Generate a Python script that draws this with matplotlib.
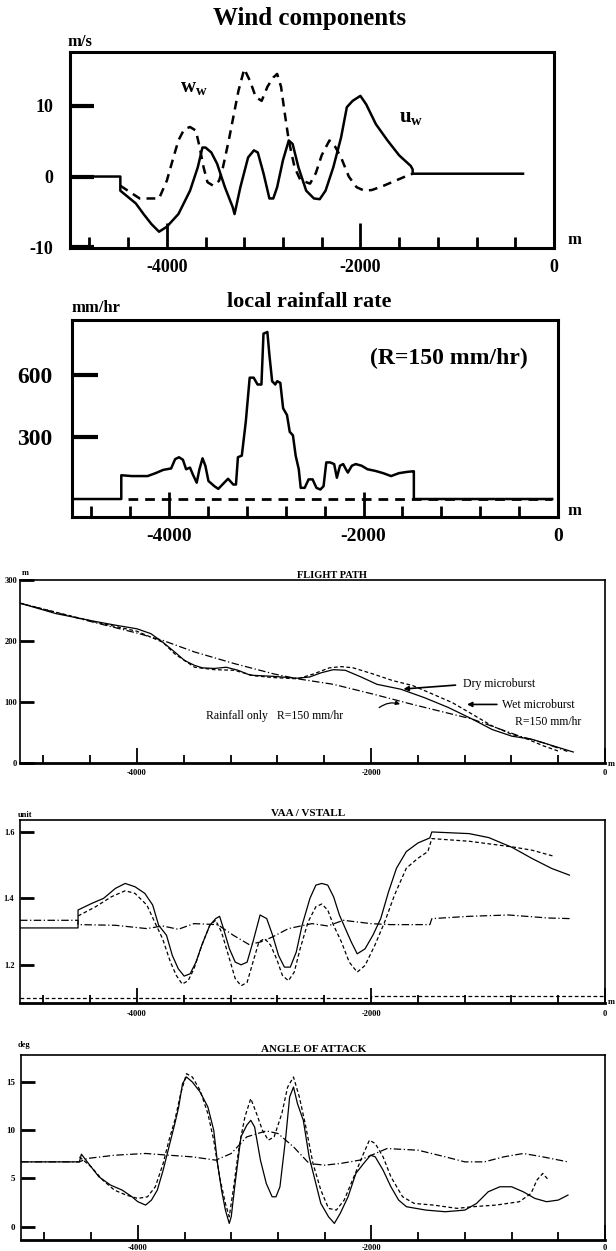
import matplotlib
matplotlib.use('Agg')
import matplotlib.pyplot as plt

plt.rcParams['font.family'] = ['Liberation Serif', 'DejaVu Serif']
plt.rcParams['mathtext.fontset'] = 'custom'
plt.rcParams['mathtext.rm'] = 'Liberation Serif'
plt.rcParams['mathtext.bf'] = 'Liberation Serif:bold'

W, H = 616, 1251

# ---- wind components ----
ux = [-5000, -4480, -4480, -4400, -4320, -4240, -4160, -4080, -4000, -3880, -3760, -3680, -3632, -3600,
      -3540, -3480, -3400, -3320, -3300, -3240, -3160, -3100, -3060, -3000, -2940, -2900, -2860, -2800,
      -2740, -2700, -2640, -2560, -2480, -2420, -2360, -2280, -2200, -2140, -2080, -2000, -1940, -1840,
      -1720, -1600, -1480, -1460, -1460, -320]
uy = [0, 0, -2.0, -2.9, -3.8, -5.3, -6.7, -7.8, -7.1, -5.3, -2.0, 1.3, 4.1, 4.1,
      3.4, 1.8, -1.5, -4.3, -5.3, -1.5, 2.7, 3.7, 3.4, 0.4, -3.1, -3.1, -1.5, 2.3,
      5.1, 4.6, 1.3, -2.0, -3.1, -3.2, -2.0, 1.3, 5.5, 9.8, 10.7, 11.4, 10.2, 7.4,
      5.1, 3.0, 1.5, 1.0, 0.4, 0.4]
wx = [-4480, -4280, -4080, -4000, -3940, -3880, -3820, -3760, -3700, -3660, -3620, -3580, -3520, -3460,
      -3420, -3360, -3300, -3260, -3200, -3140, -3080, -3020, -2960, -2900, -2860, -2820, -2780, -2740,
      -2680, -2620, -2520, -2460, -2400, -2320, -2260, -2200, -2120, -2040, -1960, -1880, -1760, -1640,
      -1520, -1460]
wy = [-1.3, -3.1, -3.1, -0.6, 2.3, 5.1, 6.7, 7.0, 6.5, 4.1, 1.3, -0.8, -1.3, -0.6,
      1.3, 5.1, 9.3, 12.1, 15.2, 13.5, 11.2, 10.7, 12.7, 14.0, 14.5, 12.7, 8.8, 5.1,
      1.3, -0.5, -1.0, 0.5, 3.0, 5.1, 4.2, 2.7, 0.0, -1.5, -2.0, -1.9, -1.3, -0.6,
      0.1, 0.4]

# ---- local rainfall rate ----
rx = [-5000, -4493, -4493, -4384, -4222, -4141, -4061, -3980, -3939, -3899, -3859, -3826, -3786, -3758,
      -3717, -3689, -3657, -3628, -3596, -3535, -3495, -3434, -3394, -3341, -3313, -3293, -3253, -3212,
      -3172, -3131, -3091, -3051, -3030, -2990, -2970, -2941, -2909, -2889, -2857, -2828, -2788, -2760,
      -2727, -2699, -2667, -2647, -2606, -2566, -2525, -2485, -2445, -2412, -2384, -2344, -2303, -2275,
      -2243, -2210, -2182, -2162, -2121, -2081, -2020, -1960, -1879, -1798, -1717, -1637, -1556, -1495,
      -1483, -1483, -60]
ry = [0, 0, 115, 111, 111, 125, 141, 148, 193, 202, 190, 144, 152, 120,
      79, 144, 197, 161, 87, 62, 49, 79, 98, 70, 70, 202, 210, 374,
      587, 587, 554, 554, 800, 808, 701, 570, 554, 570, 562, 439, 406, 325,
      308, 210, 144, 54, 54, 95, 95, 54, 46, 62, 177, 177, 169, 103,
      161, 169, 144, 128, 161, 169, 161, 144, 136, 125, 111, 125, 131, 134,
      134, 0, 0]
r_dry_x = [-4420, -60]
r_dry_y = [0, 0]

# ---- flight path ----
fp_dry_x = [-5000, -4695, -4356, -4186, -4000, -3881, -3780, -3678, -3593, -3508, -3441, -3339, -3237,
            -3136, -3034, -2830, -2627, -2525, -2424, -2322, -2220, -2085, -1949, -1746, -1542, -1339,
            -1135, -966, -797, -627, -458, -271]
fp_dry_y = [262, 245, 232, 226, 220, 212, 198, 182, 168, 160, 156, 155, 157,
            152, 144, 142, 139, 141, 148, 153, 152, 141, 129, 121, 107, 91,
            72, 55, 44, 39, 29, 18]
fp_wet_x = [-5000, -4356, -4000, -3780, -3678, -3508, -3339, -3169, -3000, -2830, -2627, -2491, -2356,
            -2254, -2152, -1983, -1813, -1644, -1474, -1305, -1135, -966, -797, -661, -525, -390]
fp_wet_y = [262, 231, 216, 198, 179, 157, 153, 152, 143, 140, 138, 146, 156,
            158, 156, 146, 135, 127, 113, 99, 80, 61, 47, 39, 28, 19]
fp_rain_x = [-5000, -4356, -4000, -3780, -3508, -3169, -2830, -2627, -2322, -1983, -1644, -1305, -1135,
             -932, -729, -525, -322]
fp_rain_y = [262, 230, 213, 201, 182, 163, 146, 138, 129, 113, 96, 80, 72,
             58, 44, 33, 19]

# ---- VAA / VSTALL ----
v_dry_x = [-5000, -4504, -4504, -4386, -4286, -4185, -4101, -4017, -3933, -3866, -3815, -3748, -3698,
           -3647, -3597, -3546, -3496, -3446, -3378, -3328, -3294, -3261, -3210, -3160, -3110, -3059,
           -3009, -2948, -2891, -2841, -2790, -2740, -2690, -2639, -2589, -2522, -2471, -2421, -2370,
           -2320, -2270, -2219, -2169, -2118, -2051, -1984, -1917, -1850, -1782, -1698, -1598, -1497,
           -1480, -1161, -993, -791, -623, -455, -304]
v_dry_y = [1.311, 1.311, 1.365, 1.385, 1.400, 1.430, 1.445, 1.435, 1.415, 1.380, 1.319, 1.289, 1.228,
           1.188, 1.166, 1.173, 1.208, 1.259, 1.319, 1.339, 1.346, 1.309, 1.248, 1.208, 1.200, 1.208,
           1.269, 1.350, 1.339, 1.289, 1.228, 1.193, 1.193, 1.238, 1.319, 1.400, 1.440, 1.445, 1.440,
           1.405, 1.350, 1.309, 1.269, 1.233, 1.248, 1.289, 1.339, 1.420, 1.491, 1.541, 1.567, 1.582,
           1.600, 1.595, 1.583, 1.553, 1.520, 1.490, 1.470]
v_wet_x = [-4504, -4353, -4218, -4101, -4017, -3916, -3849, -3782, -3714, -3664, -3614, -3563, -3513,
           -3446, -3378, -3328, -3278, -3210, -3160, -3110, -3059, -3009, -2958, -2908, -2858, -2807,
           -2757, -2706, -2656, -2606, -2538, -2471, -2421, -2370, -2320, -2253, -2186, -2118, -2051,
           -1967, -1883, -1799, -1698, -1598, -1514, -1480, -1161, -791, -623, -438]
v_wet_y = [1.347, 1.375, 1.405, 1.423, 1.415, 1.380, 1.329, 1.279, 1.208, 1.168, 1.142, 1.152, 1.188,
           1.259, 1.319, 1.334, 1.299, 1.218, 1.158, 1.137, 1.147, 1.208, 1.269, 1.279, 1.259, 1.218,
           1.168, 1.152, 1.178, 1.248, 1.329, 1.375, 1.383, 1.365, 1.319, 1.269, 1.208, 1.178, 1.198,
           1.259, 1.329, 1.410, 1.491, 1.521, 1.541, 1.580, 1.572, 1.555, 1.545, 1.527]
v_rain_x = [-5000, -4504, -4504, -4185, -3916, -3782, -3647, -3513, -3311, -3177, -3042, -2942, -2841,
            -2706, -2505, -2370, -2236, -2001, -1833, -1497, -1480, -1161, -825, -489, -287]
v_rain_y = [1.334, 1.334, 1.321, 1.319, 1.309, 1.317, 1.307, 1.324, 1.321, 1.289, 1.261, 1.269, 1.284,
            1.309, 1.324, 1.317, 1.334, 1.324, 1.321, 1.321, 1.339, 1.346, 1.350, 1.341, 1.339]
v_ref_x = [-5000, -2000, -2000, 0]
v_ref_y = [1.100, 1.100, 1.107, 1.107]

# ---- angle of attack ----
a_dry_x = [-5000, -4500, -4483, -4433, -4333, -4233, -4133, -4050, -4000, -3933, -3883, -3833, -3783,
           -3733, -3683, -3650, -3617, -3583, -3533, -3467, -3400, -3350, -3317, -3283, -3250, -3217,
           -3200, -3167, -3117, -3067, -3033, -3000, -2950, -2900, -2850, -2817, -2783, -2733, -2700,
           -2667, -2633, -2583, -2533, -2483, -2433, -2367, -2317, -2267, -2200, -2133, -2067, -2007,
           -1967, -1900, -1833, -1767, -1700, -1533, -1367, -1200, -1100, -1000, -900, -800, -700,
           -600, -500, -400, -317]
a_dry_y = [6.72, 6.72, 7.52, 6.72, 5.17, 4.31, 3.79, 3.10, 2.59, 2.24, 2.76, 3.79, 5.86,
           8.28, 10.69, 12.41, 14.83, 15.52, 15.00, 13.97, 12.41, 10.00, 6.55, 3.79, 1.72, 0.34,
           1.03, 4.48, 9.31, 10.52, 11.03, 10.34, 6.90, 4.48, 3.10, 3.10, 4.14, 9.31, 13.45,
           14.48, 12.76, 11.03, 7.24, 4.83, 2.41, 1.03, 0.34, 1.38, 3.10, 5.52, 6.55, 7.41,
           7.24, 5.86, 4.14, 2.76, 2.07, 1.72, 1.55, 1.72, 2.41, 3.62, 4.14, 4.14, 3.62,
           2.93, 2.59, 2.76, 3.28]
a_wet_x = [-4500, -4400, -4300, -4200, -4100, -4000, -3917, -3850, -3783, -3733, -3683, -3633, -3583,
           -3533, -3467, -3400, -3350, -3300, -3250, -3217, -3183, -3133, -3083, -3033, -2983, -2933,
           -2883, -2833, -2767, -2717, -2667, -2617, -2567, -2500, -2433, -2367, -2300, -2233, -2150,
           -2067, -2017, -1967, -1900, -1833, -1733, -1633, -1467, -1267, -1133, -933, -733, -633,
           -583, -533, -483]
a_wet_y = [7.24, 6.21, 4.83, 3.79, 3.28, 2.93, 3.10, 4.14, 6.55, 8.97, 11.03, 13.79, 15.86,
           15.52, 14.14, 11.72, 8.97, 5.17, 2.41, 1.03, 3.79, 8.28, 11.38, 13.28, 11.72, 10.00,
           8.97, 9.31, 11.72, 14.48, 15.52, 13.45, 10.69, 6.55, 3.79, 1.90, 1.72, 2.76, 5.17,
           7.59, 8.97, 8.62, 7.24, 5.17, 3.10, 2.41, 2.24, 1.90, 2.07, 2.24, 2.59, 3.45,
           4.83, 5.52, 4.83]
a_rain_x = [-5000, -4500, -4433, -4200, -3933, -3733, -3533, -3333, -3200, -3067, -2900, -2800, -2667,
            -2533, -2400, -2267, -2100, -2000, -1867, -1600, -1367, -1200, -1033, -867, -700, -533, -317]
a_rain_y = [6.72, 6.72, 7.07, 7.41, 7.59, 7.41, 7.24, 6.90, 7.59, 9.31, 9.93, 9.66, 8.28,
            6.55, 6.38, 6.55, 6.90, 7.41, 8.10, 7.93, 7.24, 6.72, 6.72, 7.24, 7.59, 7.24, 6.72]

x_major = [-4000, -2000, 0]
x_major_labels = ['-4000', '-2000', '0']
x_minor = list(range(-4800, 0, 400))

fig = plt.figure(figsize=(W / 100, H / 100), dpi=100)


def box(l, t, r, b):
    return fig.add_axes([l / W, 1 - b / H, (r - l) / W, (b - t) / H])


def ftext(x, y, s, **kw):
    fig.text(x / W, 1 - y / H, s, **kw)


def style_x(ax, lab_size, pad, major_len, minor_len, width, bold=True):
    ax.set_xlim(-5000, 0)
    ax.set_xticks(x_major)
    ax.set_xticklabels(x_major_labels, fontsize=lab_size, fontweight='bold' if bold else 'normal')
    ax.set_xticks(x_minor, minor=True)
    ax.tick_params(axis='x', which='major', direction='in', length=major_len, width=width, pad=pad)
    ax.tick_params(axis='x', which='minor', direction='in', length=minor_len, width=width)


# panel 1
ax1 = box(70, 52, 554, 248)
ax1.plot(ux, uy, color='k', lw=1.8)
ax1.plot(wx, wy, color='k', lw=1.8, dashes=(3.5, 2.5))
ax1.set_ylim(-10.1, 17.6)
style_x(ax1, 13, 8, 18, 8, 2)
ax1.set_yticks([-10, 0, 10])
ax1.set_yticklabels(['-10', '0', '10'], fontsize=13, fontweight='bold')
ax1.tick_params(axis='y', direction='in', length=17, width=3, pad=12)
for s in ax1.spines.values():
    s.set_linewidth(2.2)
ax1.text(-3720, 12.6, r'$\mathbf{w_w}$', fontsize=15, ha='center', va='center')
ax1.text(-1480, 8.4, r'$\mathbf{u_w}$', fontsize=15, ha='center', va='center')
ftext(310, 18, 'Wind components', fontsize=18, fontweight='bold', ha='center', va='center')
ftext(67, 42, 'm/s', fontsize=12, fontweight='bold', ha='left', va='center')
ftext(574, 240, 'm', fontsize=12, fontweight='bold', ha='center', va='center')

# panel 2
ax2 = box(72, 320, 558, 517)
ax2.plot(rx, ry, color='k', lw=1.8)
ax2.plot(r_dry_x, r_dry_y, color='k', lw=2, dashes=(3.5, 2.5))
ax2.set_ylim(-87, 866)
style_x(ax2, 14, 8, 18, 8, 2)
ax2.set_yticks([300, 600])
ax2.set_yticklabels(['300', '600'], fontsize=17, fontweight='bold')
ax2.tick_params(axis='y', direction='in', length=19, width=3, pad=14)
for s in ax2.spines.values():
    s.set_linewidth(2.2)
ax2.text(-1120, 680, '(R=150 mm/hr)', fontsize=17, fontweight='bold', ha='center', va='center')
ftext(309, 302, 'local rainfall rate', fontsize=16, fontweight='bold', ha='center', va='center')
ftext(71, 308, 'mm/hr', fontsize=12, fontweight='bold', ha='left', va='center')
ftext(574, 511, 'm', fontsize=12, fontweight='bold', ha='center', va='center')

# panel 3
ax3 = box(20, 580, 605, 763)
ax3.plot(fp_dry_x, fp_dry_y, color='k', lw=0.9)
ax3.plot(fp_wet_x, fp_wet_y, color='k', lw=0.9, dashes=(3, 2))
ax3.plot(fp_rain_x, fp_rain_y, color='k', lw=0.9, dashes=(6, 2, 1, 2))
ax3.set_ylim(0, 300)
style_x(ax3, 6, 4, 11, 6, 1.3)
ax3.set_yticks([0, 100, 200, 300])
ax3.set_yticklabels(['0', '100', '200', '300'], fontsize=6, fontweight='bold')
ax3.tick_params(axis='y', direction='in', length=10, width=2, pad=2)
for s in ax3.spines.values():
    s.set_linewidth(1.2)
ax3.spines['bottom'].set_linewidth(2)
ax3.annotate('', xy=(-1746, 121), xytext=(-1254, 128),
             arrowprops=dict(arrowstyle='-|>', lw=1.2, color='k', mutation_scale=7))
ax3.text(-1215, 129, 'Dry microburst', fontsize=8.5, ha='left', va='center')
ax3.annotate('', xy=(-1203, 96), xytext=(-900, 96),
             arrowprops=dict(arrowstyle='-|>', lw=1.2, color='k', mutation_scale=7))
ax3.text(-880, 95, 'Wet microburst', fontsize=8.5, ha='left', va='center')
ax3.text(-770, 68, 'R=150 mm/hr', fontsize=8.5, ha='left', va='center')
ax3.text(-3407, 77, 'Rainfall only   R=150 mm/hr', fontsize=8.5, ha='left', va='center')
ax3.annotate('', xy=(-1729, 95), xytext=(-1949, 88),
             arrowprops=dict(arrowstyle='-|>', lw=0.9, color='k', mutation_scale=6,
                             connectionstyle='arc3,rad=-0.3'))
ftext(332, 575, 'FLIGHT PATH', fontsize=7.5, fontweight='bold', ha='center', va='center')
ftext(22, 573, 'm', fontsize=6, fontweight='bold', ha='left', va='center')
ftext(608, 764, 'm', fontsize=6, fontweight='bold', ha='left', va='center')

# panel 4
ax4 = box(20, 820, 605, 1003)
ax4.plot(v_dry_x, v_dry_y, color='k', lw=0.9)
ax4.plot(v_wet_x, v_wet_y, color='k', lw=0.9, dashes=(3, 2))
ax4.plot(v_rain_x, v_rain_y, color='k', lw=0.9, dashes=(6, 2, 1, 2))
ax4.plot(v_ref_x, v_ref_y, color='k', lw=0.9, dashes=(3, 2))
ax4.set_ylim(1.085, 1.636)
style_x(ax4, 6, 5, 11, 6, 1.3)
ax4.set_yticks([1.2, 1.4, 1.6])
ax4.set_yticklabels(['1.2', '1.4', '1.6'], fontsize=6, fontweight='bold')
ax4.tick_params(axis='y', direction='in', length=10, width=2, pad=4)
for s in ax4.spines.values():
    s.set_linewidth(1.2)
ax4.spines['bottom'].set_linewidth(2)
ftext(308, 813, 'VAA / VSTALL', fontsize=8, fontweight='bold', ha='center', va='center')
ftext(18, 815, 'unit', fontsize=6, fontweight='bold', ha='left', va='center')
ftext(608, 1002, 'm', fontsize=6, fontweight='bold', ha='left', va='center')

# panel 5
ax5 = box(21, 1055, 605, 1240)
ax5.plot(a_dry_x, a_dry_y, color='k', lw=0.9)
ax5.plot(a_wet_x, a_wet_y, color='k', lw=0.9, dashes=(3, 2))
ax5.plot(a_rain_x, a_rain_y, color='k', lw=0.9, dashes=(6, 2, 1, 2))
ax5.set_ylim(-1.38, 17.8)
style_x(ax5, 6, 3, 11, 6, 1.3)
ax5.set_yticks([0, 5, 10, 15])
ax5.set_yticklabels(['0', '5', '10', '15'], fontsize=6.5, fontweight='bold')
ax5.tick_params(axis='y', direction='in', length=10, width=2, pad=4)
for s in ax5.spines.values():
    s.set_linewidth(1.2)
ax5.spines['bottom'].set_linewidth(2)
ftext(314, 1050, 'ANGLE OF ATTACK', fontsize=8, fontweight='bold', ha='center', va='center')
ftext(18, 1045, 'deg', fontsize=6, fontweight='bold', ha='left', va='center')

fig.savefig('out.png', dpi=100)
